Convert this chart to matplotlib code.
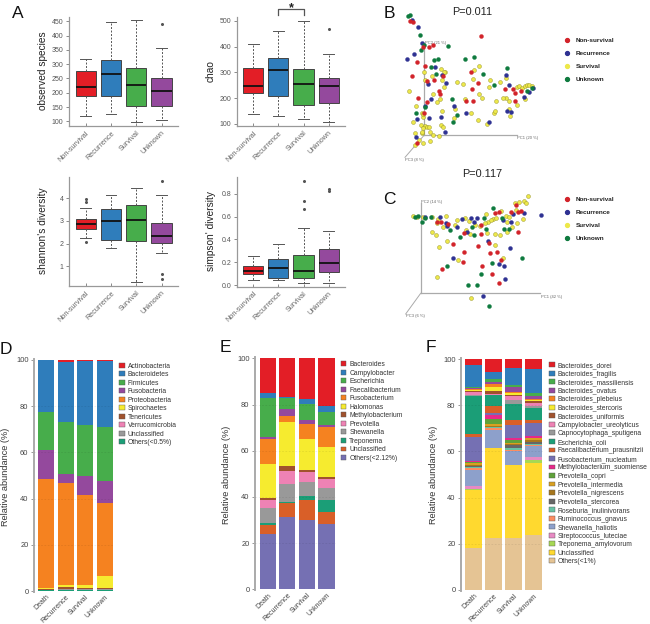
import numpy as np
import matplotlib
matplotlib.use("Agg")
import matplotlib.pyplot as plt
from matplotlib.patches import Patch
from matplotlib.lines import Line2D
from matplotlib.transforms import Affine2D

plt.rcParams['font.family'] = ['Liberation Sans', 'DejaVu Sans']
W, H = 650, 624
fig = plt.figure(figsize=(6.5, 6.24), dpi=100)
PX = Affine2D().scale(1 / W, -1 / H).translate(0, 1) + fig.transFigure

GROUPS_A = ['Non-survival', 'Recurrence', 'Survival', 'Unknown']
GROUPS_BAR = ['Death', 'Recurrence', 'Survival', 'Unknown']
BOX_COLORS = ['#E31E26', '#2F7DBB', '#47AD4B', '#94499D']

# box statistics: whislo, q1, med, q3, whishi
obs_stats = [[118, 187, 219, 276, 319], [126, 189, 265, 314, 447], [98, 154, 228, 285, 453], [103, 154, 206, 251, 356]]
obs_fliers = [[], [], [], [440]]
chao_stats = [[138, 220, 248, 315, 410], [130, 208, 310, 355, 460], [118, 175, 254, 312, 500], [108, 182, 247, 278, 370]]
chao_fliers = [[], [], [], [468]]
shan_stats = [[2.25, 2.66, 2.85, 3.1, 3.55], [1.8, 2.18, 2.98, 3.53, 4.15], [0.3, 2.13, 3.03, 3.7, 4.47], [1.58, 2.02, 2.33, 2.93, 4.13]]
shan_fliers = [[2.05, 3.85, 3.95], [], [], [0.45, 0.65, 4.75]]
simp_stats = [[0.04, 0.095, 0.125, 0.165, 0.255], [0.04, 0.06, 0.15, 0.225, 0.36], [0.02, 0.06, 0.125, 0.265, 0.5], [0.02, 0.11, 0.19, 0.315, 0.47]]
simp_fliers = [[], [], [0.67, 0.74, 0.91], [0.82, 0.84]]

# ordination scores (PC-plot coordinates)
B_red = [(120,64),(128,65),(333,107),(178,142),(190,135),(141,185),(125,228),(165,198),(172,243),(193,240),(218,227),(303,215),(324,248),(305,267),(207,273),(211,283),(145,294),(172,305),(287,304),(310,302),(404,268),(429,268),(452,273),(435,280),(435,304),(163,338),(142,430),(158,140)]
B_blue = [(125,60),(143,80),(155,130),(131,163),(112,177),(194,201),(215,226),(229,249),(175,251),(184,296),(408,226),(418,254),(476,277),(462,292),(252,319),(214,350),(178,354),(140,357),(289,338),(357,366),(411,333),(424,337),(224,397),(137,412),(165,318),(490,265)]
B_green = [(113,47),(120,44),(150,104),(233,137),(163,135),(152,150),(285,177),(311,170),(193,181),(204,177),(182,201),(198,221),(411,204),(338,222),(373,255),(246,297),(261,345),(250,367),(165,320),(485,265),(470,272),(138,340)]
B_yellow = [(117,272),(162,215),(165,240),(225,216),(214,207),(187,228),(260,245),(278,253),(308,236),(311,210),(328,197),(361,240),(389,245),(407,233),(357,261),(217,241),(221,262),(190,281),(209,298),(200,305),(138,318),(155,338),(160,350),(128,366),(152,375),(165,378),(172,380),(178,380),(160,385),(134,400),(157,398),(180,395),(190,404),(208,408),(148,420),(159,429),(135,436),(180,423),(214,375),(218,380),(217,333),(255,326),(253,354),(302,340),(323,359),(352,372),(372,340),(376,332),(419,347),(416,328),(440,315),(416,302),(407,295),(399,295),(379,302),(337,295),(328,283),(284,298),(440,262),(447,258),(457,263),(465,258),(470,256),(478,255),(485,258),(464,296),(222,215),(160,342),(155,395)]
C_red = [(200,186),(212,186),(235,192),(250,251),(282,277),(278,305),(217,326),(323,258),(357,249),(360,278),(380,277),(336,317),(365,343),(387,370),(393,300),(282,220),(333,221),(332,196),(375,160),(388,157),(424,157),(444,215),(453,152),(445,157),(438,135)]
C_blue = [(512,166),(463,160),(430,163),(424,186),(398,180),(303,173),(322,173),(311,186),(228,188),(210,170),(276,178),(262,200),(292,217),(353,244),(419,265),(248,294),(386,312),(403,317),(405,358),(340,409),(165,172),(232,198)]
C_green = [(145,168),(155,187),(165,175),(368,143),(341,173),(240,209),(269,232),(313,226),(305,202),(349,208),(403,206),(416,207),(231,319),(365,309),(333,343),(295,374),(320,374),(356,439),(457,294),(135,170),(183,172),(395,175)]
C_yellow = [(130,168),(140,170),(160,170),(186,171),(228,168),(260,181),(285,175),(298,183),(347,162),(370,178),(378,175),(392,153),(407,168),(416,171),(439,150),(447,125),(463,123),(475,107),(468,130),(435,128),(458,178),(412,186),(427,200),(440,190),(410,215),(390,225),(374,222),(350,218),(330,198),(316,195),(287,210),(254,195),(220,200),(200,190),(186,215),(199,224),(232,242),(207,261),(264,300),(202,351),(303,414),(398,293),(374,255),(355,185),(345,190),(300,222),(362,180),(205,178)]

# stacked composition, legend order (top of the stack first)
D_taxa = ['Actinobacteria', 'Bacteroidetes', 'Firmicutes', 'Fusobacteria', 'Proteobacteria', 'Spirochaetes', 'Tenericutes', 'Verrucomicrobia', 'Unclassified', 'Others(<0.5%)']
D_death = [0.2, 22.2, 16.7, 12.4, 47.0, 0.7, 0.2, 0.1, 0.2, 0.3]
D_recur = [0.7, 26.3, 22.5, 3.6, 44.5, 0.6, 1.0, 0.1, 0.4, 0.3]
D_surv = [0.3, 27.9, 22.2, 8.0, 38.9, 1.6, 0.1, 0.1, 0.4, 0.5]
D_unkn = [0.4, 28.7, 23.2, 9.4, 31.7, 5.5, 0.1, 0.3, 0.4, 0.3]
D_colors = ['#E31E26', '#2F7DBB', '#47AD4B', '#94499D', '#F58220', '#F6EB2F', '#A0522D', '#EE82B4', '#999999', '#1B9E77']

E_taxa = ['Bacteroides', 'Campylobacter', 'Escherichia', 'Faecalibacterium', 'Fusobacterium', 'Halomonas', 'Methylobacterium', 'Prevotella', 'Shewanella', 'Treponema', 'Unclassified', 'Others(<2.12%)']
E_death = [15.2, 2.0, 17.0, 0.8, 10.8, 14.5, 1.2, 3.2, 6.5, 0.8, 4.0, 24.0]
E_recur = [16.8, 0.5, 4.8, 2.9, 2.7, 19.1, 2.2, 5.2, 8.0, 0.3, 6.3, 31.2]
E_surv = [17.6, 2.0, 7.1, 1.8, 6.5, 13.2, 1.2, 4.3, 6.0, 1.5, 8.9, 29.9]
E_unkn = [20.6, 2.6, 5.5, 0.9, 8.7, 12.9, 0.9, 4.0, 5.1, 5.4, 5.0, 28.4]
E_colors = ['#E31E26', '#2F7DBB', '#47AD4B', '#94499D', '#F58220', '#F6EB2F', '#A0522D', '#EE82B4', '#999999', '#1B9E77', '#D95F28', '#7570B3']

F_taxa = ['Bacteroides_dorei', 'Bacteroides_fragilis', 'Bacteroides_massiliensis', 'Bacteroides_ovatus', 'Bacteroides_plebeius', 'Bacteroides_stercoris', 'Bacteroides_uniformis', 'Campylobacter_ureolyticus', 'Capnocytophaga_sputigena', 'Escherichia_coli', 'Faecalibacterium_prausnitzii', 'Fusobacterium_nucleatum', 'Methylobacterium_suomiense', 'Prevotella_copri', 'Prevotella_intermedia', 'Prevotella_nigrescens', 'Prevotella_stercorea', 'Roseburia_inulinivorans', 'Ruminococcus_gnavus', 'Shewanella_haliotis', 'Streptococcus_luteciae', 'Treponema_amylovorum', 'Unclassified', 'Others(<1%)']
F_death = [2.8, 9.2, 0.7, 0.3, 0.3, 0.4, 0.4, 1.5, 0.4, 16.6, 1.1, 10.3, 0.5, 0.7, 0.5, 0.5, 0.5, 0.3, 1.2, 6.7, 1.4, 0.2, 25.5, 18.0]
F_recur = [5.6, 2.9, 1.5, 1.0, 1.0, 2.0, 1.0, 0.4, 0.3, 4.5, 3.0, 1.1, 1.7, 2.3, 0.7, 0.3, 0.3, 0.2, 0.9, 7.7, 0.2, 0.1, 39.0, 22.3]
F_surv = [4.0, 7.4, 0.8, 2.0, 0.6, 0.6, 0.7, 1.7, 1.6, 7.2, 1.8, 5.8, 0.8, 1.4, 0.4, 0.4, 1.3, 1.1, 0.4, 5.8, 0.2, 0.1, 31.6, 22.3]
F_unkn = [4.5, 10.3, 1.4, 1.2, 0.4, 0.4, 0.8, 1.5, 0.5, 5.6, 1.1, 5.8, 0.5, 0.3, 0.7, 1.0, 0.8, 0.3, 0.6, 4.8, 1.1, 1.4, 31.0, 24.0]
F_colors = ['#E31E26', '#2F7DBB', '#47AD4B', '#94499D', '#F58220', '#F6EB2F', '#A0522D', '#EE82B4', '#999999', '#1B9E77', '#D95F28', '#7570B3', '#E7298A', '#5FA13A', '#D9A020', '#A6761D', '#666666', '#66C2A5', '#FC8D62', '#8DA0CB', '#E78AC3', '#A6D854', '#FFD92F', '#E5C494']


def px_axes(left, top, right, bottom):
    return fig.add_axes([left / W, 1 - bottom / H, (right - left) / W, (bottom - top) / H])


def limits(p0, v0, p1, v1, a, b):
    k = (v1 - v0) / (p1 - p0)
    return v0 + (a - p0) * k, v0 + (b - p0) * k


def boxpanel(box, ypix, yvals, stats, fliers, ticks, ticklabels, ylabel, ylab_xy):
    left, top, right, bottom = box
    ax = px_axes(left, top, right, bottom)
    c0, dc = ypix[2], ypix[3]
    s = []
    for st, fl, name in zip(stats, fliers, GROUPS_A):
        s.append(dict(whislo=st[0], q1=st[1], med=st[2], q3=st[3], whishi=st[4], fliers=fl, label=name))
    b = ax.bxp(s, positions=range(4), widths=0.8, patch_artist=True, showfliers=True,
               boxprops=dict(edgecolor='#444444', linewidth=0.7),
               medianprops=dict(color='#111111', linewidth=1.3),
               whiskerprops=dict(color='#555555', linewidth=0.7, linestyle=(0, (2, 1.6))),
               capprops=dict(color='#555555', linewidth=0.7), capwidths=0.42,
               flierprops=dict(marker='o', markersize=1.2, markerfacecolor='#555555', markeredgecolor='#555555'))
    for p, c in zip(b['boxes'], BOX_COLORS):
        p.set_facecolor(c)
    ax.set_xlim((left - c0) / dc, (right - c0) / dc)
    ax.set_ylim(*limits(ypix[0], yvals[0], ypix[1], yvals[1], bottom, top))
    ax.set_yticks(ticks, ticklabels, fontsize=5.0, color='#555555')
    ax.set_xticks(range(4), GROUPS_A, rotation=45, ha='right', rotation_mode='anchor', fontsize=5.2, color='#666666')
    ax.tick_params(axis='y', length=2, width=0.6, color='#777777', pad=2)
    ax.tick_params(axis='x', length=2, width=0.6, color='#777777', direction='in', pad=2.5)
    for sp in ['top', 'right']:
        ax.spines[sp].set_visible(False)
    for sp in ['left', 'bottom']:
        ax.spines[sp].set_color('#999999')
        ax.spines[sp].set_linewidth(0.9)
    ax.patch.set_alpha(0)
    ax.set_ylabel(ylabel, fontsize=7.3, color='#222222')
    ax.yaxis.set_label_coords(ylab_xy[0], ylab_xy[1], transform=PX)
    return ax


boxpanel((69, 17, 178, 126), (121.3, 21.3, 85.7, 25.3), (100, 450), obs_stats, obs_fliers,
         [100, 150, 200, 250, 300, 350, 400, 450], ['100', '150', '200', '250', '300', '350', '400', '450'],
         'observed species', (48, 71))
ax_chao = boxpanel((236.7, 17, 345, 126), (124, 20.7, 253.3, 25.1), (100, 500), chao_stats, chao_fliers,
                   [100, 200, 300, 400, 500], ['100', '200', '300', '400', '500'], 'chao', (216, 71))
ax_chao.plot([1, 1, 2, 2], [523, 546, 546, 523], color='#555555', lw=0.9, clip_on=False)
ax_chao.text(1.5, 548, '*', ha='center', va='center', fontsize=9, fontweight='bold', color='#222222', clip_on=False)
boxpanel((69, 177, 178, 286), (266.3, 198.3, 85.7, 25.3), (1, 4), shan_stats, shan_fliers,
         [1, 2, 3, 4], ['1', '2', '3', '4'], "shannon's diversity", (48, 231))
boxpanel((236.7, 177, 345, 286.7), (285, 193.7, 253.3, 25.1), (0, 0.8), simp_stats, simp_fliers,
         [0, 0.2, 0.4, 0.6, 0.8], ['0.0', '0.2', '0.4', '0.6', '0.8'], "simpson' diversity", (216, 231))

SC_COL = {'red': '#D2232A', 'blue': '#2E3192', 'yellow': '#EDE84A', 'green': '#0E7A3E'}
LEG_LABS = ['Non-survival', 'Recurrence', 'Survival', 'Unknown']


def pcoa(origin_top, groups, v_top, orig, h_end, diag_end, labs, leg_anchor):
    ax = px_axes(370, origin_top, 650, origin_top + 170)
    ax.set_xlim(0, 840)
    ax.set_ylim(510, 0)
    ax.axis('off')
    ax.plot([orig[0], orig[0]], [v_top, orig[1]], color='#AAAAAA', lw=0.9, zorder=1)
    ax.plot([orig[0], h_end], [orig[1], orig[1]], color='#AAAAAA', lw=0.9, zorder=1)
    ax.plot([orig[0], diag_end[0]], [orig[1], diag_end[1]], color='#AAAAAA', lw=0.7, zorder=1)
    for (t, x, y) in labs:
        ax.text(x, y, t, fontsize=3.0, color='#666666', va='center', ha='left')
    for key, pts in groups:
        a = np.array(pts)
        ec = '#8F8B20' if key == 'yellow' else SC_COL[key]
        ax.scatter(a[:, 0], a[:, 1], s=8, c=SC_COL[key], edgecolors=ec, linewidths=0.3, zorder=3)
    handles = [Line2D([], [], ls='', marker='o', ms=2.8, color=SC_COL[k]) for k in ['red', 'blue', 'yellow', 'green']]
    ax.legend(handles, LEG_LABS, loc='upper left', bbox_to_anchor=leg_anchor, bbox_transform=ax.transData,
              frameon=False, prop=dict(size=4.6, weight='bold'), labelspacing=1.17, handletextpad=0.9,
              handlelength=1.2, borderpad=0, borderaxespad=0, labelcolor='#222222')
    return ax


pcoa(0, [('yellow', B_yellow), ('blue', B_blue), ('green', B_green), ('red', B_red)], 130, (163, 405), 440, (105, 472),
     [('PC2 (21 %)', 165, 130), ('PC1 (20 %)', 442, 414), ('PC3 (8 %)', 105, 481)], (578, 114))
pcoa(160, [('yellow', C_yellow), ('blue', C_blue), ('green', C_green), ('red', C_red)], 130, (152, 400), 510, (107, 462),
     [('PC2 (14 %)', 152, 125), ('PC1 (42 %)', 512, 410), ('PC3 (6 %)', 107, 468)], (578, 110))


def stack(box, y100, c0, dc, rows, taxa, colors, ylab_x, leg_xy, ylab_y):
    left, right, y0 = box
    ax = px_axes(left, y100 - 1, right, y0 + 1)
    ax.set_xlim((left - c0) / dc, (right - c0) / dc)
    ax.set_ylim(*limits(y0, 0, y100, 100, y0 + 1, y100 - 1))
    m = np.array(rows, dtype=float)
    bottoms = np.zeros(4)
    for i in range(len(taxa) - 1, -1, -1):
        ax.bar(range(4), m[:, i], bottom=bottoms, width=0.83, color=colors[i], linewidth=0, zorder=2)
        bottoms = bottoms + m[:, i]
    handles = [Patch(facecolor=c, edgecolor='#555555', linewidth=0.3) for c in colors]
    for v in [20, 40, 60, 80]:
        ax.axhline(v, color='#000000', lw=0.4, ls=(0, (3, 3)), alpha=0.12, zorder=3)
    ax.set_yticks([0, 20, 40, 60, 80, 100])
    ax.tick_params(axis='y', labelsize=5.4, labelcolor='#444444', length=2, width=0.6, color='#888888', pad=2)
    ax.set_xticks(range(4), GROUPS_BAR, rotation=45, ha='right', rotation_mode='anchor', fontsize=5.0, color='#444444')
    ax.tick_params(axis='x', length=0, pad=1)
    for sp in ['top', 'right', 'bottom']:
        ax.spines[sp].set_visible(False)
    ax.spines['left'].set_color('#AAAAAA')
    ax.spines['left'].set_linewidth(1.4)
    ax.set_ylabel('Relative abundance (%)', fontsize=6.6, color='#333333')
    ax.yaxis.set_label_coords(ylab_x, ylab_y, transform=PX)
    fig.legend(handles, taxa, loc='upper left', bbox_to_anchor=leg_xy, bbox_transform=PX, frameon=False,
               fontsize=4.9, labelspacing=0.225, handlelength=0.85, handleheight=0.72, handletextpad=0.4,
               borderpad=0, borderaxespad=0, labelcolor='#333333')


stack((34, 114, 591), 360, 46.2, 19.5, [D_death, D_recur, D_surv, D_unkn], D_taxa, D_colors, 10, (119.3, 362.5), 477)
stack((255, 336, 589.3), 358.3, 267.7, 19.6, [E_death, E_recur, E_surv, E_unkn], E_taxa, E_colors, 231, (340.7, 361), 475)
stack((461, 543, 590), 359, 473.7, 20, [F_death, F_recur, F_surv, F_unkn], F_taxa, F_colors, 437.5, (549, 362), 475)

for t, x, y in [('A', 18, 13), ('B', 389, 13), ('C', 389, 200), ('D', 6, 349), ('E', 225, 348), ('F', 431, 348)]:
    fig.text(x, y, t, transform=PX, fontsize=12.5, ha='center', va='center', color='#111111')
fig.text(471.7, 12, 'P=0.011', transform=PX, fontsize=7.8, ha='center', va='center', color='#222222')
fig.text(482, 174, 'P=0.117', transform=PX, fontsize=7.8, ha='center', va='center', color='#222222')

fig.savefig('out.png', dpi=100)
